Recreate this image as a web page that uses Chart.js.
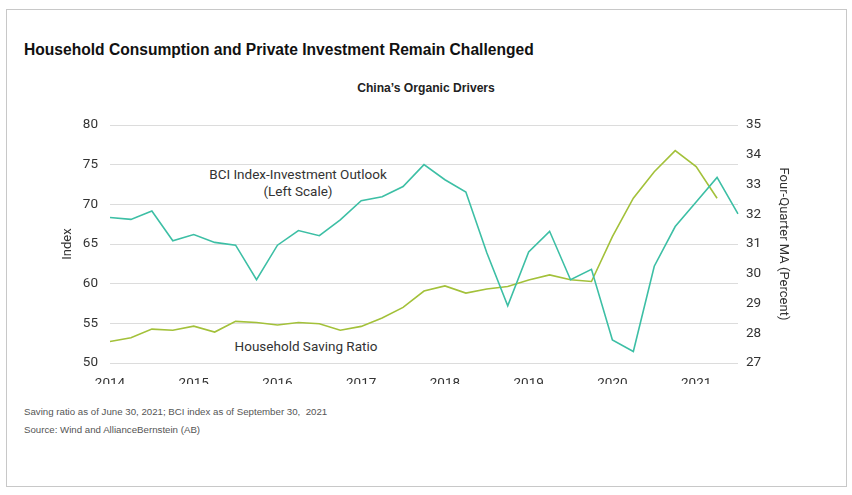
<!DOCTYPE html>
<html>
<head>
<meta charset="utf-8">
<script src="https://cdn.jsdelivr.net/npm/chart.js@4"></script>
<style>
  html, body { margin: 0; padding: 0; background: #fff; }
  #page { position: relative; width: 852px; height: 495px; overflow: hidden; }
  #frame { position: absolute; left: 6px; top: 9px; width: 839px; height: 476px; border: 1px solid #c8c8c8; }
  .title { position: absolute; left: 24px; top: 41px; font: bold 16px "Liberation Sans", sans-serif; color: #111; white-space: nowrap; transform: scaleX(0.975); transform-origin: left top; }
  .subtitle { position: absolute; left: 0; width: 852px; top: 81px; text-align: center; font: bold 12.5px "Liberation Sans", sans-serif; color: #222; transform: scaleX(0.97); }
  .note { position: absolute; left: 24px; font: 9.7px "Liberation Sans", sans-serif; color: #555; white-space: nowrap; }
  .anno { position: absolute; font: 13.5px Roboto, sans-serif; color: #333; text-align: center; white-space: nowrap; }
  #chart { position: absolute; left: 0; top: 0; }
</style>
</head>
<body>
<div id="page">
  <div id="frame"></div>
  <div class="title">Household Consumption and Private Investment Remain Challenged</div>
  <div class="subtitle">China’s Organic Drivers</div>
  <div class="anno" style="left:188px; top:166px; width:220px; line-height:17px;">BCI Index-Investment Outlook<br>(Left Scale)</div>
  <div class="anno" style="left:196px; top:338px; width:220px;">Household Saving Ratio</div>
  <div class="note" style="top:406px;">Saving ratio as of June 30, 2021; BCI index as of September 30,&nbsp; 2021</div>
  <div class="note" style="top:424px;">Source: Wind and AllianceBernstein (AB)</div>
  <canvas id="chart" width="852" height="495"></canvas>
</div>
<script>
// quarterly points, first one sits on the 2014 tick
const quarters = [
  '2014 Q1', '2014 Q2', '2014 Q3', '2014 Q4',
  '2015 Q1', '2015 Q2', '2015 Q3', '2015 Q4',
  '2016 Q1', '2016 Q2', '2016 Q3', '2016 Q4',
  '2017 Q1', '2017 Q2', '2017 Q3', '2017 Q4',
  '2018 Q1', '2018 Q2', '2018 Q3', '2018 Q4',
  '2019 Q1', '2019 Q2', '2019 Q3', '2019 Q4',
  '2020 Q1', '2020 Q2', '2020 Q3', '2020 Q4',
  '2021 Q1', '2021 Q2', '2021 Q3'
];

// BCI index - investment outlook (left scale)
const bciIndex = [
  68.35, 68.1, 69.15, 65.4, 66.2, 65.2, 64.85, 60.5,
  64.85, 66.7, 66.05, 68.05, 70.45, 70.95, 72.25, 75.0,
  73.1, 71.55, 63.9, 57.2, 64.0, 66.6, 60.5, 61.8,
  52.9, 51.45, 62.2, 67.2, 70.3, 73.4, 68.8
];

// household saving ratio, four-quarter MA in percent (right scale)
const savingRatio = [
  27.72, 27.85, 28.14, 28.1, 28.24, 28.04, 28.4, 28.36,
  28.28, 28.36, 28.32, 28.1, 28.23, 28.51, 28.87, 29.42,
  29.59, 29.35, 29.49, 29.57, 29.79, 29.96, 29.8, 29.74,
  31.25, 32.54, 33.43, 34.14, 33.6, 32.54, null
];

const leftTicks = [50, 55, 60, 65, 70, 75, 80];
const rightTicks = [27, 28, 29, 30, 31, 32, 33, 34, 35];

const tickFont = { family: 'Roboto, sans-serif', size: 13.5 };
const tickColor = '#333';

new Chart(document.getElementById('chart'), {
  type: 'line',
  data: {
    labels: quarters,
    datasets: [
      {
        label: 'BCI Index-Investment Outlook',
        data: bciIndex,
        yAxisID: 'y',
        borderColor: '#3dbfa5',
        borderWidth: 1.6,
        pointRadius: 0,
        tension: 0
      },
      {
        label: 'Household Saving Ratio',
        data: savingRatio,
        yAxisID: 'y1',
        borderColor: '#a3c13a',
        borderWidth: 1.6,
        pointRadius: 0,
        tension: 0
      }
    ]
  },
  options: {
    responsive: false,
    animation: false,
    layout: { padding: { left: 50, top: 125, right: 52, bottom: 111 } },
    plugins: { legend: { display: false }, tooltip: { enabled: false } },
    scales: {
      x: {
        offset: false,
        grid: { display: false },
        border: { display: false },
        ticks: {
          autoSkip: false,
          maxRotation: 0,
          padding: 5,
          color: tickColor,
          font: tickFont,
          callback: function (value, index) {
            const q = quarters[index];
            return q.endsWith('Q1') ? q.slice(0, 4) : '';
          }
        },
        afterFit: function (scale) { scale.height = 21; }
      },
      y: {
        position: 'left',
        min: 50,
        max: 80,
        afterBuildTicks: function (scale) { scale.ticks = leftTicks.map(v => ({ value: v })); },
        grid: { color: '#dcdcdc', lineWidth: 1, drawTicks: false },
        border: { display: false },
        ticks: { padding: 12, color: tickColor, font: tickFont },
        title: {
          display: true,
          text: 'Index',
          color: tickColor,
          font: { family: 'Roboto, sans-serif', size: 13 },
          padding: { top: 10, bottom: 0 }
        },
        afterFit: function (scale) { scale.width = 60; }
      },
      y1: {
        position: 'right',
        min: 27,
        max: 35,
        afterBuildTicks: function (scale) { scale.ticks = rightTicks.map(v => ({ value: v })); },
        grid: { display: false, drawTicks: false },
        border: { display: false },
        ticks: { padding: 8, color: tickColor, font: tickFont },
        title: {
          display: true,
          text: 'Four-Quarter MA (Percent)',
          color: tickColor,
          font: { family: 'Roboto, sans-serif', size: 13 },
          padding: { top: 9, bottom: 0 }
        },
        afterFit: function (scale) { scale.width = 62; }
      }
    }
  }
});
</script>
</body>
</html>
